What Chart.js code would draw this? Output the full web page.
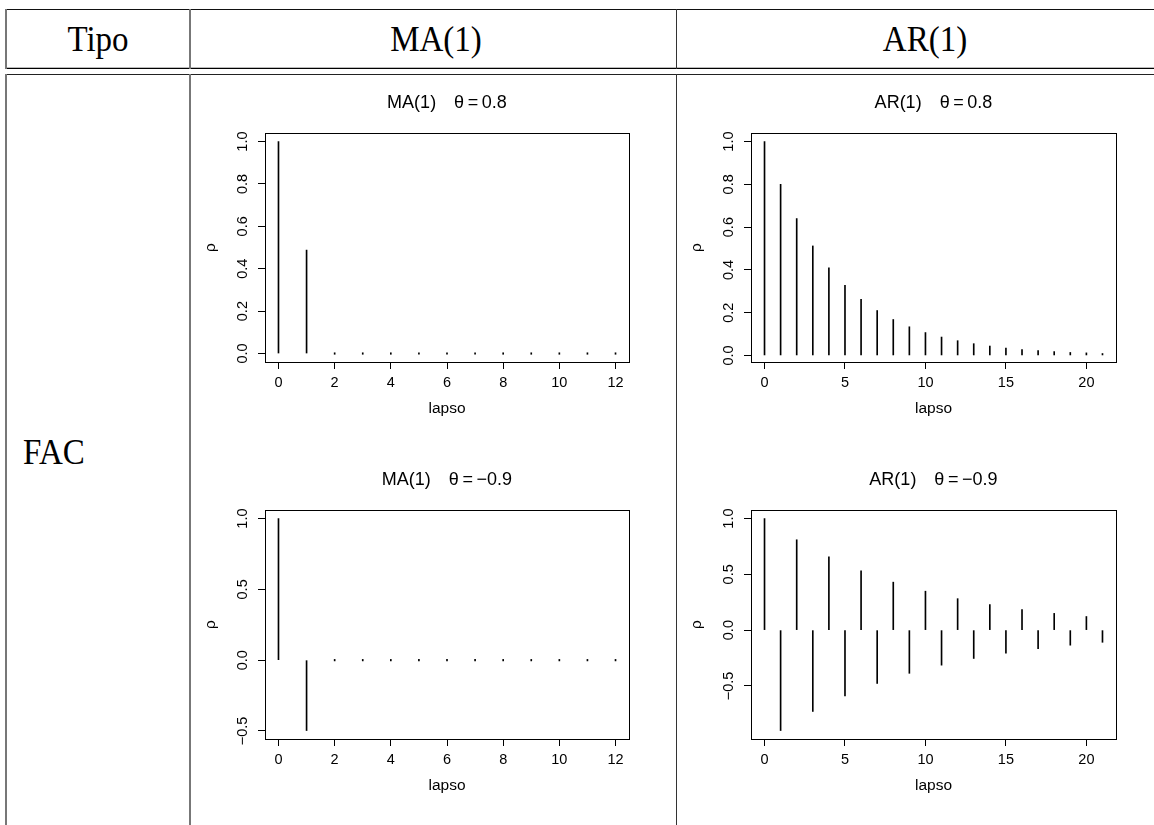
<!DOCTYPE html>
<html><head><meta charset="utf-8">
<script src="https://cdn.jsdelivr.net/npm/chart.js@4.4.1/dist/chart.umd.min.js"></script>
<style>
html,body{margin:0;padding:0;background:#fff}
body{width:1154px;height:825px;overflow:hidden;position:relative;font-family:"Liberation Serif","Times New Roman",serif}
.ln{position:absolute}
.t{position:absolute;font-size:33px;line-height:33px;color:#000;white-space:nowrap;transform:scaleY(1.06);transform-origin:50% 50%}
canvas{position:absolute}
</style></head><body>
<!-- table rules -->
<div class="ln" style="left:5px;top:9px;width:1149px;height:1px;background:#111"></div>
<div class="ln" style="left:5px;top:67px;width:1149px;height:1px;background:#bbb"></div>
<div class="ln" style="left:5px;top:68px;width:1149px;height:1px;background:#000"></div>
<div class="ln" style="left:5px;top:74px;width:1149px;height:1px;background:#222"></div>
<div class="ln" style="left:5px;top:9px;width:2px;height:60px;background:#777"></div>
<div class="ln" style="left:189px;top:9px;width:2px;height:60px;background:#777"></div>
<div class="ln" style="left:676px;top:9px;width:1px;height:60px;background:#333"></div>
<div class="ln" style="left:5px;top:74px;width:2px;height:751px;background:#777"></div>
<div class="ln" style="left:189px;top:74px;width:2px;height:751px;background:#777"></div>
<div class="ln" style="left:676px;top:74px;width:1px;height:751px;background:#333"></div>

<div class="t" style="left:6px;width:184px;text-align:center;top:23px">Tipo</div>
<div class="t" style="left:190px;width:492px;text-align:center;top:23px">MA(1)</div>
<div class="t" style="left:676px;width:498px;text-align:center;top:23px">AR(1)</div>
<div class="t" style="left:23px;top:436px">FAC</div>

<canvas id="c1" width="450" height="346" style="left:195px;top:78px"></canvas>
<canvas id="c2" width="455" height="346" style="left:681px;top:78px"></canvas>
<canvas id="c3" width="450" height="346" style="left:195px;top:455px"></canvas>
<canvas id="c4" width="455" height="346" style="left:681px;top:455px"></canvas>

<script>
// ---- data ----
const lagsMA = [0,1,2,3,4,5,6,7,8,9,10,11,12];
const rhoMA08 = [1, 0.488, 0, 0, 0, 0, 0, 0, 0, 0, 0, 0, 0];
const rhoMAm09 = [1, -0.497, 0, 0, 0, 0, 0, 0, 0, 0, 0, 0, 0];
const lagsAR = [0,1,2,3,4,5,6,7,8,9,10,11,12,13,14,15,16,17,18,19,20,21];
const rhoAR08 = [1, 0.8, 0.64, 0.512, 0.41, 0.328, 0.262, 0.21, 0.168, 0.134, 0.107, 0.086, 0.069, 0.055, 0.044, 0.035, 0.028, 0.023, 0.018, 0.014, 0.012, 0.009];
const rhoARm09 = [1, -0.9, 0.81, -0.729, 0.656, -0.59, 0.531, -0.478, 0.43, -0.387, 0.349, -0.314, 0.282, -0.254, 0.229, -0.206, 0.185, -0.167, 0.15, -0.135, 0.122, -0.109];
const xTicksMA = [0,2,4,6,8,10,12];
const xTicksAR = [0,5,10,15,20];
const yTicksPos = [0,0.2,0.4,0.6,0.8,1.0];
const yTicksMix = [-0.5,0,0.5,1.0];
const titleMA08 = 'MA(1)\u2003\u03B8\u2009=\u20090.8';
const titleAR08 = 'AR(1)\u2003\u03B8\u2009=\u20090.8';
const titleMAm09 = 'MA(1)\u2003\u03B8\u2009=\u2009\u22120.9';
const titleARm09 = 'AR(1)\u2003\u03B8\u2009=\u2009\u22120.9';
const xLabel = 'lapso';
const yLabel = '\u03C1';

// ---- style ----
const SANS = '"Liberation Sans", Arial, Helvetica, sans-serif';
const TICK_SIZE = 14.5;
const fmtY = v => (v < 0 ? '\u2212' : '') + Math.abs(v).toFixed(1);

const boxPlugin = {
  id: 'rbox',
  afterDatasetsDraw(chart) {
    const {ctx, chartArea: a} = chart;
    const l = Math.round(a.left) + 0.5, t = Math.round(a.top) + 0.5;
    const r = Math.round(a.right) + 0.5, b = Math.round(a.bottom) + 0.5;
    ctx.save();
    ctx.strokeStyle = '#000';
    ctx.lineWidth = 1;
    ctx.strokeRect(l, t, r - l, b - t);
    ctx.restore();
  }
};

const mctx = document.createElement('canvas').getContext('2d');
mctx.font = TICK_SIZE + 'px ' + SANS;

function makeChart(id, lags, rho, xTicks, yTicks, title, padRight) {
  const xmin = Math.min(...lags), xmax = Math.max(...lags);
  const ymin = Math.min(...rho), ymax = Math.max(...rho);
  const dx = (xmax - xmin) * 0.04, dy = (ymax - ymin) * 0.04;
  const widest = Math.max(...yTicks.map(v => mctx.measureText(fmtY(v)).width));
  const padY = Math.max(0, 15 - widest / 2);
  return new Chart(document.getElementById(id), {
    type: 'bar',
    data: {
      datasets: [{
        data: lags.map((x, i) => ({x: x, y: rho[i]})),
        backgroundColor: '#000',
        borderWidth: 0,
        barThickness: 1,
        minBarLength: 1.5,
        grouped: false
      }]
    },
    options: {
      responsive: false,
      animation: false,
      devicePixelRatio: 1,
      layout: {padding: {left: 0, right: padRight, top: 0, bottom: 0}},
      plugins: {
        legend: {display: false},
        tooltip: {enabled: false},
        title: {
          display: true, text: title, fullSize: false, color: '#000',
          font: {family: SANS, size: 18, weight: 'normal', lineHeight: 1.2},
          padding: {top: 14, bottom: 19.5}
        }
      },
      scales: {
        x: {
          type: 'linear', bounds: 'data', offset: false,
          min: xmin - dx, max: xmax + dx,
          afterBuildTicks: s => { s.ticks = xTicks.map(v => ({value: v})); },
          afterFit: s => { s.height = 62; },
          grid: {display: true, offset: false, drawOnChartArea: false, drawTicks: true, tickLength: 7, color: '#000', lineWidth: 1},
          border: {display: false},
          ticks: {padding: 5.5, color: '#000', font: {family: SANS, size: TICK_SIZE}, maxRotation: 0, minRotation: 0, autoSkip: false},
          title: {display: true, text: xLabel, color: '#000', font: {family: SANS, size: 15.5}, padding: {top: 0, bottom: 6}}
        },
        y: {
          type: 'linear', bounds: 'data', beginAtZero: false,
          min: ymin - dy, max: ymax + dy,
          afterBuildTicks: s => { s.ticks = yTicks.map(v => ({value: v})); },
          afterFit: s => { s.width = 70; },
          grid: {display: true, drawOnChartArea: false, drawTicks: true, tickLength: 7, color: '#000', lineWidth: 1},
          border: {display: false},
          ticks: {minRotation: 90, maxRotation: 90, crossAlign: 'center', padding: padY, color: '#000',
                  font: {family: SANS, size: TICK_SIZE}, autoSkip: false, callback: v => fmtY(v)},
          title: {display: true, text: yLabel, color: '#000', font: {family: SANS, size: 15.5}, padding: {top: 6, bottom: 0}}
        }
      }
    },
    plugins: [boxPlugin]
  });
}

makeChart('c1', lagsMA, rhoMA08, xTicksMA, yTicksPos, titleMA08, 16);
makeChart('c2', lagsAR, rhoAR08, xTicksAR, yTicksPos, titleAR08, 20);
makeChart('c3', lagsMA, rhoMAm09, xTicksMA, yTicksMix, titleMAm09, 16);
makeChart('c4', lagsAR, rhoARm09, xTicksAR, yTicksMix, titleARm09, 20);
</script>
</body></html>
